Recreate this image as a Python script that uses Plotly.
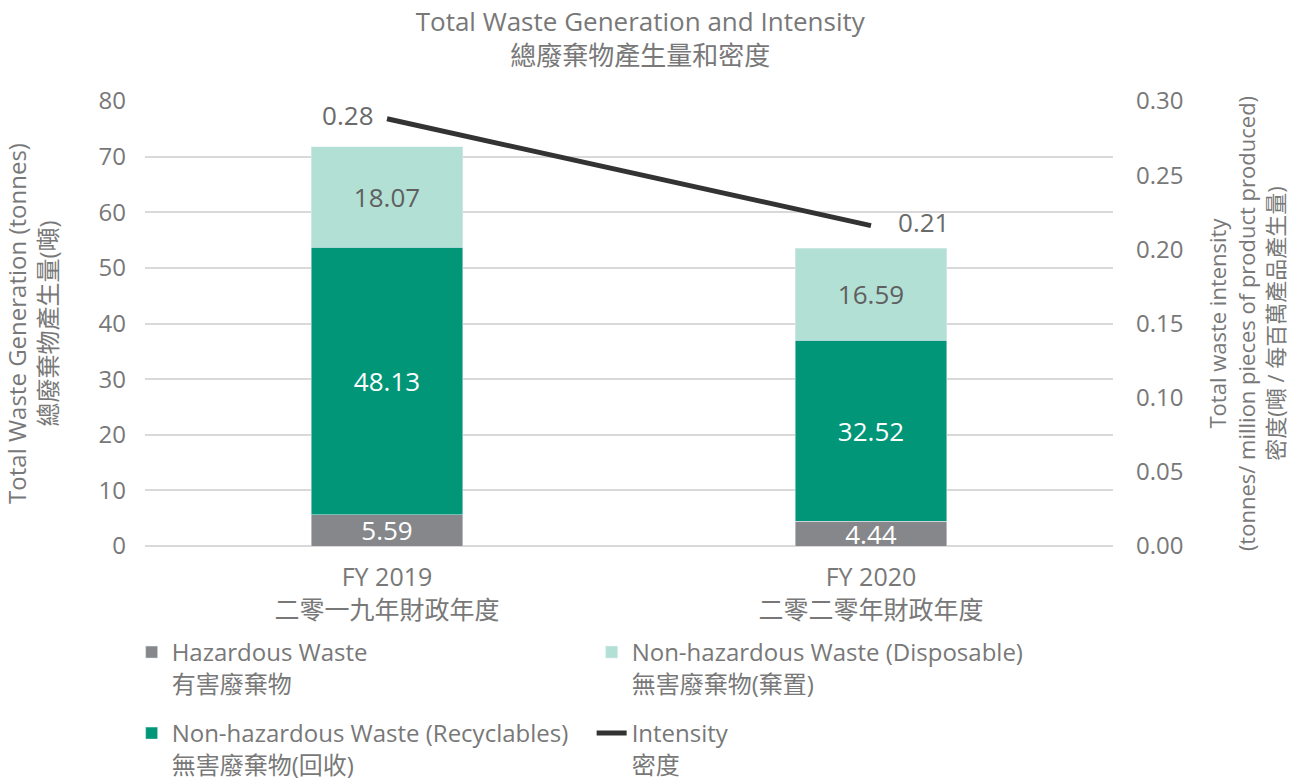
import plotly.graph_objects as go

categories = ["FY 2019<br>二零一九年財政年度", "FY 2020<br>二零二零年財政年度"]
hazardous = [5.59, 4.44]
recyclables = [48.13, 32.52]
disposable = [18.07, 16.59]
intensity = [0.288, 0.216]
intensity_labels = ["0.28", "0.21"]

FONT = "'Open Sans', 'Noto Sans CJK TC', sans-serif"
GRAY_TEXT = "#787878"

fig = go.Figure()
fig.add_trace(go.Bar(
    x=categories, y=hazardous, name="Hazardous Waste<br>有害廢棄物",
    marker_color="#86878b", text=[f"{v:.2f}" for v in hazardous],
    textposition="inside", insidetextanchor="middle", constraintext="none",
    textfont=dict(color="white", size=26, family=FONT), legend="legend",
))
fig.add_trace(go.Bar(
    x=categories, y=recyclables, name="Non-hazardous Waste (Recyclables)<br>無害廢棄物(回收)",
    marker_color="#009677", text=[f"{v:.2f}" for v in recyclables],
    textposition="inside", insidetextanchor="middle", constraintext="none",
    textfont=dict(color="white", size=26, family=FONT), legend="legend2",
))
fig.add_trace(go.Bar(
    x=categories, y=disposable, name="Non-hazardous Waste (Disposable)<br>無害廢棄物(棄置)",
    marker_color="#b3e0d5", text=[f"{v:.2f}" for v in disposable],
    textposition="inside", insidetextanchor="middle", constraintext="none",
    textfont=dict(color="#5f5f5f", size=26, family=FONT), legend="legend",
))
fig.add_trace(go.Scatter(
    x=categories, y=intensity, name="Intensity<br>密度", yaxis="y2",
    mode="lines+text", line=dict(color="#333333", width=5),
    text=intensity_labels, texttemplate=["%{text}  ", "    %{text}"],
    textposition=["middle left", "middle right"],
    textfont=dict(color="#6a6a6a", size=26, family=FONT), legend="legend2",
    cliponaxis=False,
))

legend_common = dict(
    orientation="h", xanchor="left", yanchor="top", x=-0.0138,
    entrywidth=415, valign="top", font=dict(size=24, color=GRAY_TEXT, family=FONT),
    traceorder="normal", bgcolor="rgba(0,0,0,0)",
)

fig.update_layout(
    width=1296, height=779,
    barmode="stack", bargap=0.686,
    font=dict(family=FONT, color=GRAY_TEXT, size=24),
    plot_bgcolor="white", paper_bgcolor="white",
    margin=dict(l=145, r=183, t=101, b=233, autoexpand=False),
    title=dict(
        text="Total Waste Generation and Intensity<br><span style='font-size:26px'>總廢棄物產生量和密度</span>",
        x=0.494, xanchor="center", y=0.960, yanchor="top", yref="container",
        font=dict(size=26, color=GRAY_TEXT, family=FONT),
    ),
    xaxis=dict(showgrid=False, showline=False, ticks="", automargin=False,
               tickfont=dict(size=25, color=GRAY_TEXT), ticklabelstandoff=14),
    yaxis=dict(
        range=[0, 80], dtick=10, showgrid=True, gridcolor="#d9d9d9", gridwidth=1.5,
        zeroline=True, zerolinecolor="#d9d9d9", zerolinewidth=1.5, automargin=False,
        tickfont=dict(size=24, color=GRAY_TEXT), ticklabelstandoff=18,
        title=dict(text="Total Waste Generation (tonnes)<br>總廢棄物產生量(噸)",
                   font=dict(size=24, color=GRAY_TEXT), standoff=38),
    ),
    yaxis2=dict(
        range=[0, 0.30], dtick=0.05, tickformat=".2f", overlaying="y", side="right",
        showgrid=False, zeroline=False, automargin=False,
        tickfont=dict(size=24, color=GRAY_TEXT), ticklabelstandoff=22,
        title=dict(text="Total waste intensity<br>(tonnes/ million pieces of product produced)<br>密度(噸 / 每百萬產品產生量)",
                   font=dict(size=22, color=GRAY_TEXT), standoff=28),
    ),
    legend=dict(legend_common, y=-0.1888),
    legend2=dict(legend_common, y=-0.3708),
)

fig.write_html("out.html")
